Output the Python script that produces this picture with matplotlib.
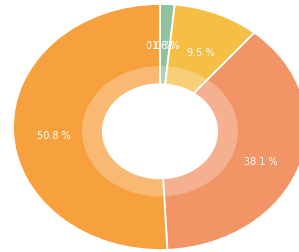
import matplotlib
matplotlib.use("Agg")
import matplotlib.pyplot as plt
from matplotlib.patches import Ellipse

categories = ["A", "B", "C", "D", "E"]
values = [0.0, 1.6, 9.5, 38.1, 50.8]
colors = ["#9cc8a8", "#8fc39f", "#f5be45", "#f29466", "#f7a03e"]

fig = plt.figure(figsize=(2.99, 2.53), dpi=100)
ax = fig.add_axes([0, 0, 1, 1])

wedges, texts, autotexts = ax.pie(
    values, colors=colors, startangle=90, counterclock=False,
    radius=1.0, autopct=lambda p: f"{p:.1f} %", pctdistance=0.72,
    wedgeprops=dict(width=1.0, edgecolor="white", linewidth=1.3),
    textprops=dict(color="white", fontsize=7),
)
for t in autotexts:
    x, y = t.get_position()
    t.set_position((x, y - 0.05))

hole_c = (0, -0.035)
# translucent inner band
ax.pie([1], colors=["white"], radius=0.53, startangle=90, center=hole_c,
       wedgeprops=dict(width=0.14, alpha=0.27, linewidth=0))
ax.add_patch(Ellipse(hole_c, 2 * 0.395, 2 * 0.39, facecolor="white",
                     edgecolor="none", zorder=5))

ax.set_aspect("auto")
ax.set_xlim(-160 / 147, 139 / 147)
ax.set_ylim(-125 / 123, 128 / 123)
ax.axis("off")
fig.savefig("out.png", dpi=100)
